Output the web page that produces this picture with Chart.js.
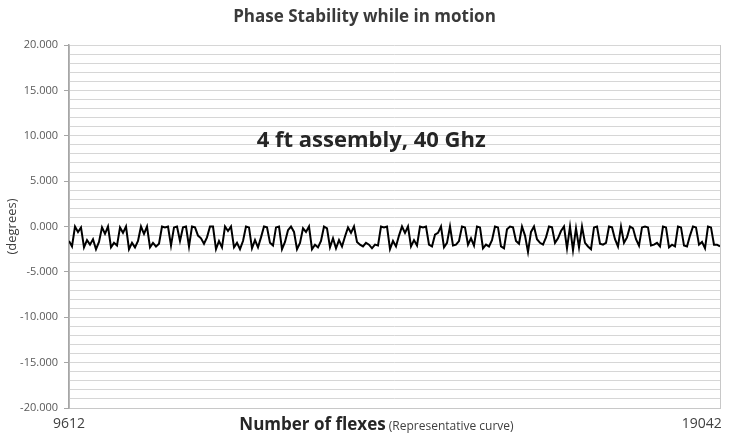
<!DOCTYPE html>
<html>
<head>
<meta charset="utf-8">
<script src="https://cdn.jsdelivr.net/npm/chart.js@4.4.1/dist/chart.umd.min.js"></script>
<style>
  html, body { margin: 0; padding: 0; background: #fff; }
  #wrap { width: 729px; height: 439px; }
</style>
</head>
<body>
<div id="wrap"><canvas id="myChart"></canvas></div>
<script>
// first and last flex count shown under the axis
const flexTicks = [9612, 19042];

// labelled y ticks (degrees)
const majorTicks = [-20, -15, -10, -5, 0, 5, 10, 15, 20];

// phase readings left to right
const phase = [
  -1.6, -2.2, 0.0, -0.6, -0.1, -2.3, -1.5, -2.0, -1.4, -2.5,
  -1.7, -0.1, -0.8, 0.0, -2.3, -1.8, -2.1, -0.1, -0.7, 0.0,
  -2.5, -1.8, -2.3, -1.6, 0.0, -0.8, 0.0, -2.3, -1.8, -2.2,
  -1.9, 0.0, -0.1, 0.0, -2.1, -0.1, 0.0, -1.6, -0.1, 0.0,
  -2.2, 0.0, -0.1,
  -1.0, -1.3, -1.9, -1.2, 0.0, 0.0, -2.5, -1.6, -2.3, 0.0,
  -0.5, 0.0, -2.3, -1.8, -2.5, -1.6, 0.0, -0.1, -2.4, -1.5,
  -2.3, -1.2, 0.0, -0.1, -1.8, -2.1, -0.1, 0.0, -2.5, -1.7,
  -0.4, 0.0, -0.6, -2.5, -1.8, -0.2, -0.6, 0.0, -2.5, -2.0,
  -2.3, -1.6, 0.0,
  -0.2, -2.3, -1.3, -2.4, -1.5, -2.2, -1.1, -0.1, -0.7, 0.0,
  -1.7, -2.0, -2.2, -1.8, -2.0, -2.4, -2.0, -2.1, 0.0, -0.1,
  0.0, -2.5, -1.6, -2.2, -1.0, 0.0, -0.7, 0.0, -2.2, -1.5,
  -2.1, 0.0, -0.1, 0.0, -2.0, -2.2, -0.9, -0.7, 0.0, -2.3,
  -1.8, 0.0, -2.1,
  -2.0, -1.6, 0.0, -0.1, -2.0, -1.3, -2.1, 0.0, -0.1, -2.4,
  -2.0, -2.2, -1.5, 0.0, -0.1, -2.2, -2.4, -0.3, 0.0, -0.1,
  -1.6, -1.9, 0.0, -1.0, -2.8, -0.6, 0.0, -1.4, -1.8, -2.0,
  -1.2, 0.0, -0.1, -1.8, -1.3, -0.5, 0.0, -2.4, 0.0, -2.6,
  -0.2, -2.3, 0.0,
  -1.8, -2.2, -2.5, -0.1, 0.0, -1.9, -2.0, -1.8, 0.0, -0.1,
  -1.4, -2.2, 0.0, -1.8, -1.2, 0.0, -0.2, -1.4, -2.1, -0.1,
  0.0, -0.1, -2.1, -2.0, -1.8, -2.2, 0.0, -0.1, -2.3, -2.0,
  -2.2, 0.0, -0.1, -2.1, -2.2, -1.0, 0.0, -0.1, -2.0, -1.7,
  -2.4, 0.0, -0.1, -2.0, -2.0, -2.2
];

// readings are evenly spaced between the first and last flex count
const points = phase.map((v, i) => ({
  x: flexTicks[0] + i * (flexTicks[1] - flexTicks[0]) / (phase.length - 1),
  y: v
}));

Chart.defaults.font.family = '"Open Sans", sans-serif';

// bold caption in the plot and the two-font axis title
const extraText = {
  id: 'extraText',
  afterDraw(chart) {
    const ctx = chart.ctx;
    const xs = chart.scales.x;
    const ys = chart.scales.y;
    ctx.save();
    ctx.fillStyle = '#262626';
    ctx.font = 'bold 22px "Open Sans"';
    ctx.textAlign = 'center';
    ctx.textBaseline = 'middle';
    ctx.fillText('4 ft assembly, 40 Ghz', xs.getPixelForValue(13990), ys.getPixelForValue(9.5));

    const boldPart = 'Number of flexes';
    const plainPart = ' (Representative curve)';
    ctx.font = 'bold 17px "Open Sans"';
    const w1 = ctx.measureText(boldPart).width;
    ctx.font = '12px "Open Sans"';
    const w2 = ctx.measureText(plainPart).width;
    const left = 376.5 - (w1 + w2) / 2;
    const base = chart.chartArea.bottom + 22;
    ctx.textAlign = 'left';
    ctx.textBaseline = 'alphabetic';
    ctx.fillStyle = '#262626';
    ctx.font = 'bold 17px "Open Sans"';
    ctx.fillText(boldPart, left, base);
    ctx.fillStyle = '#404040';
    ctx.font = '12px "Open Sans"';
    ctx.fillText(plainPart, left + w1, base);
    ctx.restore();
  }
};

const config = {
  type: 'line',
  data: {
    datasets: [{
      data: points,
      borderColor: '#000000',
      borderWidth: 2,
      pointRadius: 0,
      tension: 0,
      fill: false
    }]
  },
  options: {
    responsive: true,
    maintainAspectRatio: false,
    animation: false,
    layout: { padding: 0 },
    plugins: {
      legend: { display: false },
      tooltip: { enabled: false },
      title: {
        display: true,
        text: 'Phase Stability while in motion',
        color: '#3a3a3a',
        font: { size: 17, weight: 'bold' },
        padding: { top: 7, bottom: 17.6 }
      }
    },
    scales: {
      x: {
        type: 'linear',
        min: flexTicks[0],
        max: flexTicks[1],
        afterBuildTicks: (scale) => {
          scale.ticks = flexTicks.map(v => ({ value: v }));
        },
        afterFit: (scale) => {
          scale.height = 31;
          scale.paddingLeft = 0;
          scale.paddingRight = 9;
        },
        ticks: {
          autoSkip: false,
          maxRotation: 0,
          color: '#404040',
          font: { size: 14 },
          padding: 8,
          // trailing spaces keep the last label inside the plot's right edge
          callback: (v, i, ticks) => i === ticks.length - 1 ? String(v) + ' '.repeat(10) : String(v)
        },
        grid: { drawTicks: false, color: '#c8c8c8' },
        border: { color: '#c8c8c8' }
      },
      y: {
        min: -20,
        max: 20,
        afterFit: (scale) => { scale.width = 69; },
        ticks: {
          stepSize: 1,
          autoSkip: false,
          color: '#595959',
          font: { size: 11 },
          padding: 6,
          callback: (v) => majorTicks.includes(v) ? v.toFixed(3) : ''
        },
        grid: {
          color: '#d6d6d6',
          tickLength: 5,
          tickColor: (c) => majorTicks.includes(c.tick.value) ? '#a6a6a6' : 'rgba(0,0,0,0)'
        },
        border: { color: '#a6a6a6', width: 1.5 },
        title: {
          display: true,
          text: '(degrees)',
          color: '#404040',
          font: { size: 13 },
          padding: { top: 4, bottom: 1 }
        }
      }
    }
  },
  plugins: [extraText]
};

const myChart = new Chart(document.getElementById('myChart'), config);
</script>
</body>
</html>
